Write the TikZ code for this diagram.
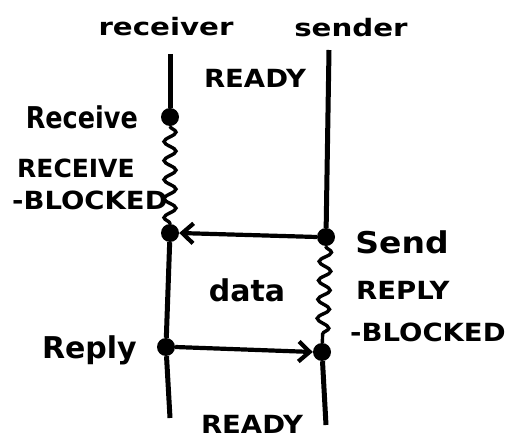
\documentclass[tikz,border=0pt]{standalone}
\usepackage{fontspec}
\setmainfont{DejaVu Sans}
\newfontfamily\narrow[FakeStretch=0.85]{DejaVu Sans}
\newfontfamily\wide[FakeStretch=1.1]{DejaVu Sans}
\newfontfamily\wider[FakeStretch=1.22]{DejaVu Sans}
\usetikzlibrary{decorations.pathmorphing,arrows.meta}
\begin{document}
\begin{tikzpicture}[x=1pt,y=-1pt,
  life/.style={line width=5pt},
  wave/.style={line width=3.4pt,decorate,decoration={snake,segment length=19pt,amplitude=6pt}},
  msg/.style={line width=4.2pt,-{Straight Barb[length=11pt,width=20pt,line width=4.2pt]}},
  ev/.style={circle,fill=black,inner sep=0pt,minimum size=18pt},
  big/.style={font=\bfseries\fontsize{30}{32}\selectfont,inner sep=0pt},
  caps/.style={font=\wide\bfseries\fontsize{25}{26}\selectfont,inner sep=0pt},
  head/.style={font=\wider\bfseries\fontsize{24}{25}\selectfont,inner sep=0pt}]
\useasboundingbox (0,0) rectangle (517,438);
% process lifelines
\coordinate (rtop) at (170,54);
\coordinate (rbot) at (170,418);
\coordinate (stop) at (329,50);
\coordinate (sbot) at (326,425);
\node[ev] (recv) at (170,117) {};
\node[ev] (rwake) at (170,233) {};
\node[ev] (reply) at (166,347) {};
\node[ev] (send) at (326,237) {};
\node[ev] (swake) at (322,352) {};
\draw[life] (rtop) -- (recv);
\draw[wave] (recv) -- (rwake);
\draw[life] (rwake) -- (reply) -- (rbot);
\draw[life] (stop) -- (send);
\draw[wave] (send) -- (swake);
\draw[life] (swake) -- (sbot);
% messages
\draw[msg] (send.west) -- (rwake.east);
\draw[msg] (reply.east) -- (swake.west);
% labels
\node[head] (lr) at (166,27) {receiver};
\node[head] (ls) at (351,28) {sender};
\node[caps] (ready1) at (255,78) {READY};
\node[big,font=\narrow\bfseries\fontsize{30}{32}\selectfont,anchor=east] (lrecv) at (138,117) {Receive};
\node[caps,font=\bfseries\fontsize{25}{26}\selectfont,anchor=west] (lrb1) at (17,168) {RECEIVE};
\node[caps,anchor=west] (lrb2) at (12,200) {-BLOCKED};
\node[big,font=\wide\bfseries\fontsize{30}{32}\selectfont] (lsend) at (402,242) {Send};
\node[caps,anchor=west] (lsb1) at (356,290) {REPLY};
\node[caps,anchor=west] (lsb2) at (350,332) {-BLOCKED};
\node[big] (ldata) at (247,290) {data};
\node[big,anchor=east] (lreply) at (137,350) {Reply};
\node[caps] (ready2) at (252,424) {READY};
\end{tikzpicture}
\end{document}
